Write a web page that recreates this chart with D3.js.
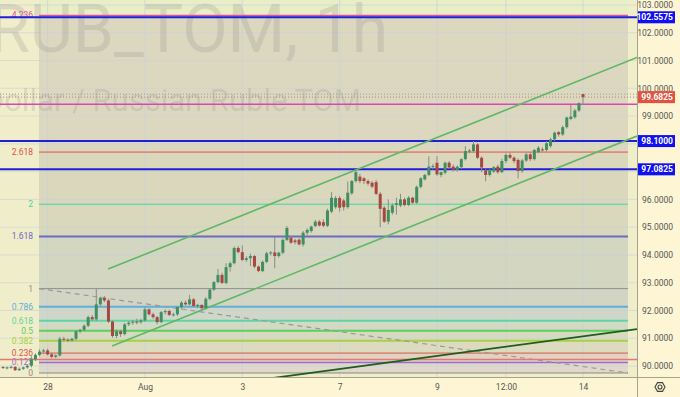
<!DOCTYPE html>
<html>
<head>
<meta charset="utf-8">
<title>USDRUB_TOM, 1h</title>
<style>
  body { margin: 0; background: #fdf5d3; }
  svg { display: block; font-family: Roboto, "Liberation Sans", sans-serif; }
</style>
</head>
<body>
<script src="https://d3js.org/d3.v7.min.js"></script>
<script>

// hourly candles, 27 Jul .. 14 Aug
var opens = [89.96,89.93,89.95,89.97,89.85,89.90,89.95,90.01,90.24,90.40,
  90.52,90.56,90.42,90.33,90.38,90.98,90.95,90.92,90.98,91.25,
  91.30,91.45,91.76,91.68,92.22,92.45,92.36,91.60,91.08,91.25,
  91.15,91.50,91.56,91.60,91.58,91.64,92.04,91.86,91.76,91.58,
  91.94,91.98,91.84,91.86,92.12,92.28,92.22,92.40,92.16,92.20,
  92.08,92.42,92.75,93.02,93.28,92.99,93.56,93.70,94.25,94.10,
  93.82,93.88,93.96,93.58,93.42,93.75,94.06,94.09,93.96,94.08,
  94.54,94.62,94.52,94.55,94.38,94.80,94.86,95.04,95.20,95.18,
  95.05,95.56,95.72,96.05,95.96,95.72,96.22,96.66,96.82,96.76,
  96.66,96.60,96.62,96.20,95.70,95.20,95.52,95.80,95.78,96.00,
  95.80,96.06,95.88,96.45,96.72,96.88,97.18,97.32,96.88,96.96,
  97.32,97.18,97.06,97.16,97.45,97.74,97.74,97.98,97.50,97.05,
  96.88,97.00,97.18,96.98,97.38,97.60,97.50,97.42,97.02,97.40,
  97.62,97.45,97.70,97.80,97.78,97.92,98.16,98.42,98.34,98.60,
  98.90,98.96,99.20,99.79];
var highs = [90.00,89.98,90.02,89.99,89.95,89.98,90.05,90.35,90.46,90.60,
  90.62,90.62,90.48,90.42,91.05,91.05,91.00,91.02,91.30,91.34,
  91.50,91.82,91.84,92.77,92.50,92.52,92.42,91.64,91.32,91.30,
  91.55,91.62,91.66,91.70,91.70,92.12,92.08,91.92,91.80,91.98,
  92.04,92.03,91.92,92.16,92.34,92.36,92.56,92.45,92.24,92.22,
  92.48,92.80,93.06,93.50,93.36,93.70,93.76,94.30,94.32,94.34,
  93.95,94.05,94.00,93.62,93.80,94.12,94.14,94.65,94.12,94.60,
  95.04,94.68,94.58,94.60,94.86,94.96,95.06,95.26,95.26,95.28,
  95.66,96.26,96.12,96.12,96.02,96.65,96.70,97.08,96.92,96.80,
  96.72,96.66,96.70,96.26,95.76,96.00,95.86,96.06,96.20,96.06,
  96.12,96.10,96.50,96.80,96.92,97.55,97.28,97.55,97.00,97.36,
  97.38,97.26,97.22,97.48,97.92,97.82,98.10,98.02,97.55,97.10,
  97.10,97.20,97.25,97.46,97.66,97.68,97.55,97.48,97.46,97.68,
  97.70,97.82,97.92,97.88,98.10,98.22,98.44,98.46,98.66,98.98,
  99.40,99.26,99.50,99.80];
var lows = [89.90,89.88,89.90,89.82,89.82,89.86,89.90,89.95,90.18,90.35,
  90.45,90.38,90.28,90.28,90.34,90.88,90.86,90.88,90.92,91.18,
  91.25,91.40,91.62,91.62,92.15,92.30,91.55,91.02,91.00,91.05,
  91.10,91.44,91.48,91.50,91.52,91.60,91.82,91.70,91.50,91.54,
  91.86,91.80,91.78,91.80,92.05,92.18,92.18,92.12,92.08,92.02,
  92.04,92.36,92.70,92.98,92.95,92.94,93.40,93.66,94.06,93.78,
  93.75,93.60,93.52,93.38,93.38,93.70,93.98,93.52,93.90,94.02,
  94.50,94.40,94.38,94.34,94.30,94.72,94.80,95.00,95.02,95.00,
  95.00,95.50,95.66,95.56,95.60,95.66,96.16,96.60,96.58,96.55,
  96.50,96.40,96.15,95.00,95.15,95.10,95.45,95.45,95.72,95.75,
  95.76,95.84,95.84,96.40,96.68,96.84,97.08,96.85,96.80,96.90,
  97.10,97.00,97.00,97.10,97.40,97.66,97.68,97.45,96.98,96.65,
  96.82,96.95,96.92,96.95,97.30,97.45,97.30,96.75,96.96,97.35,
  97.38,97.40,97.66,97.72,97.72,97.86,98.10,98.26,98.28,98.55,
  98.85,98.90,99.15,99.40];
var closes = [89.93,89.95,89.97,89.85,89.90,89.95,90.01,90.24,90.40,90.52,
  90.56,90.42,90.33,90.38,90.98,90.95,90.92,90.98,91.25,91.30,
  91.45,91.76,91.68,92.22,92.45,92.36,91.60,91.08,91.25,91.15,
  91.50,91.56,91.60,91.58,91.64,92.04,91.86,91.76,91.58,91.94,
  91.98,91.84,91.86,92.12,92.28,92.22,92.40,92.16,92.20,92.08,
  92.42,92.75,93.02,93.28,92.99,93.56,93.70,94.25,94.10,93.82,
  93.88,93.96,93.58,93.42,93.75,94.06,94.09,93.96,94.08,94.54,
  94.97,94.44,94.46,94.38,94.80,94.90,95.02,95.20,95.06,95.05,
  95.60,96.06,96.05,95.70,95.72,96.24,96.66,96.98,96.66,96.66,
  96.57,96.46,96.20,95.66,95.20,95.62,95.78,95.86,96.00,95.80,
  96.06,95.88,96.45,96.76,96.88,97.18,97.20,96.90,96.98,97.32,
  97.15,97.06,97.18,97.45,97.74,97.76,97.98,97.50,97.15,96.88,
  97.05,97.16,96.98,97.38,97.60,97.50,97.38,97.02,97.40,97.62,
  97.45,97.78,97.86,97.79,98.02,98.16,98.40,98.34,98.60,98.95,
  98.98,99.20,99.46,99.68];

// time axis
var timeTicks = [11, 35, 59, 83, 107, 124, 143];
var timeLabels = ["28", "Aug", "3", "7", "9", "12:00", "14"];

// price axis
var priceTicks = d3.range(90, 104, 1);

// fibonacci retracement (anchors: bar index / price)
var fibLevels = [0, 0.125, 0.236, 0.382, 0.5, 0.618, 0.786, 1, 1.618, 2, 2.618, 4.236];
var fibLabels = ["0", "0.125", "0.236", "0.382", "0.5", "0.618", "0.786", "1", "1.618", "2", "2.618", "4.236"];
var fibPrice0 = 89.748, fibPrice1 = 92.787;
var fibStart = 8.88, fibEnd = 154.1;

// horizontal lines and labelled prices
var hLinePrices = [102.5575, 98.1, 97.0825, 99.43, 90.234];
var markPrices = [102.5575, 99.6825, 98.1, 97.0825];
var lastPrice = 99.6825, lastHigh = 99.79;

// trend lines [barIndex, price]
var channelUpper = [[25.9, 93.49], [156.3, 101.11]];
var channelLower = [[26.9, 90.72], [156.3, 98.28]];
var supportLine = [[60, 89.44], [156.3, 91.33]];

// ------------------------------------------------------------------
var W = 680, H = 397, paneW = 637, paneH = 377;

var fibColors = ["#8b8b8b", "#9a6ad6", "#d9534f", "#a8cf45", "#5ccf5c", "#5fd4a4",
                 "#62aed6", "#8f8f8f", "#6b6bc4", "#3ed6a0", "#e0524a", "#e0509c"];
var fibWidths = [1, 1.5, 1, 2, 2, 2, 2, 1, 2, 1, 1, 1.5];
var bandColors = ["#e0d8c8", "#e2d3c0", "#dcdbbf", "#d6dbc0", "#d2d9c4", "#cfd7c8",
                  "#d2d5c3", "#d3d6c1", "#d9d7bc", "#dbd7bd", "#dcd8bf"];
var hLineColors = ["#1f1fd6", "#1f1fd6", "#1f1fd6", "#d946b5", "#e07a7a"];
var hLineWidths = [2, 2, 2, 1.5, 1.5];
var markColors = ["#1010f0", "#e0533f", "#1010f0", "#1010f0"];

var svg = d3.select("body").append("svg")
    .attr("width", W)
    .attr("height", H);

var x = d3.scaleLinear().domain([0, opens.length - 1]).range([3, 583]);
var y = d3.scaleLinear().domain([90, 103]).range([366, 5]);

svg.append("defs").append("clipPath").attr("id", "pane")
  .append("rect").attr("width", paneW).attr("height", paneH);

// backgrounds
svg.append("rect").attr("width", W).attr("height", H).attr("fill", "#fdf5d3");
svg.append("rect").attr("width", paneW).attr("height", paneH).attr("fill", "#f0edca");

var fibY = fibLevels.map(function(l) { return y(fibPrice0 + l * (fibPrice1 - fibPrice0)); });
var fx0 = x(fibStart), fx1 = x(fibEnd);

svg.append("rect").attr("x", fx0).attr("y", 0).attr("width", fx1 - fx0)
  .attr("height", fibY[fibY.length - 1]).attr("fill", "#e8eec6");

var pane = svg.append("g").attr("clip-path", "url(#pane)");

pane.selectAll("rect.band").data(d3.range(fibLevels.length - 1)).enter()
  .append("rect").attr("class", "band")
  .attr("x", fx0).attr("width", fx1 - fx0)
  .attr("y", function(k) { return fibY[k + 1]; })
  .attr("height", function(k) { return fibY[k] - fibY[k + 1]; })
  .attr("fill", function(k) { return bandColors[k]; });

// grid
pane.selectAll("line.vg").data(timeTicks).enter().append("line")
  .attr("x1", function(d) { return x(d); }).attr("x2", function(d) { return x(d); })
  .attr("y1", 0).attr("y2", paneH)
  .attr("stroke", "#c6d2d8").attr("stroke-opacity", 0.7);
pane.selectAll("line.hg").data(priceTicks).enter().append("line")
  .attr("x1", 0).attr("x2", paneW)
  .attr("y1", function(d) { return y(d); }).attr("y2", function(d) { return y(d); })
  .attr("stroke", "#c6d2d8").attr("stroke-opacity", 0.6);

// watermark
pane.append("text").attr("x", 388).attr("y", 52).attr("text-anchor", "end")
  .attr("font-size", 66).attr("fill", "#8a8a8a").attr("fill-opacity", 0.22)
  .text("USDRUB_TOM, 1h");
pane.append("text").attr("x", 361).attr("y", 111).attr("text-anchor", "end")
  .attr("font-size", 31).attr("fill", "#8a8a8a").attr("fill-opacity", 0.22)
  .text("U.S. Dollar / Russian Ruble TOM");

// fib levels
pane.selectAll("line.fib").data(fibLevels).enter().append("line")
  .attr("x1", fx0).attr("x2", fx1)
  .attr("y1", function(d, i) { return fibY[i]; }).attr("y2", function(d, i) { return fibY[i]; })
  .attr("stroke", function(d, i) { return fibColors[i]; })
  .attr("stroke-width", function(d, i) { return fibWidths[i]; });

pane.selectAll("text.fib").data(fibLabels).enter().append("text")
  .attr("x", fx0 - 6).attr("y", function(d, i) { return fibY[i]; })
  .attr("dy", "0.35em").attr("text-anchor", "end").attr("font-size", 8.5)
  .attr("fill", function(d, i) { return fibColors[i]; })
  .text(function(d) { return d; });

var line = d3.line()
  .x(function(d) { return x(d[0]); })
  .y(function(d) { return y(d[1]); });

pane.append("path").attr("d", line([[fibStart, fibPrice1], [fibEnd, fibPrice0]]))
  .attr("fill", "none").attr("stroke", "#9a9a94").attr("stroke-width", 1.2)
  .attr("stroke-dasharray", "5,4");

// horizontal lines
pane.selectAll("line.h").data(hLinePrices).enter().append("line")
  .attr("x1", 0).attr("x2", paneW)
  .attr("y1", function(d) { return y(d); }).attr("y2", function(d) { return y(d); })
  .attr("stroke", function(d, i) { return hLineColors[i]; })
  .attr("stroke-width", function(d, i) { return hLineWidths[i]; });

pane.selectAll("line.dot").data([lastHigh, lastPrice]).enter().append("line")
  .attr("x1", 0).attr("x2", paneW)
  .attr("y1", function(d) { return y(d); }).attr("y2", function(d) { return y(d); })
  .attr("stroke", function(d, i) { return i ? "#b88080" : "#999"; })
  .attr("stroke-dasharray", "1,2");

// channel and support
[channelUpper, channelLower].forEach(function(c) {
  pane.append("path").attr("d", line(c)).attr("fill", "none")
    .attr("stroke", "#5fb865").attr("stroke-width", 1.6);
});
pane.append("path").attr("d", line(supportLine)).attr("fill", "none")
  .attr("stroke", "#1d5e1d").attr("stroke-width", 1.8);

// candles
var candles = pane.selectAll("g.c").data(opens).enter().append("g");
candles.append("line")
  .attr("x1", function(d, i) { return x(i); }).attr("x2", function(d, i) { return x(i); })
  .attr("y1", function(d, i) { return y(highs[i]); })
  .attr("y2", function(d, i) { return y(lows[i]); })
  .attr("stroke", "#868d86");
candles.append("rect")
  .attr("x", function(d, i) { return x(i) - 1.5; })
  .attr("width", 3)
  .attr("y", function(d, i) { return y(Math.max(opens[i], closes[i])); })
  .attr("height", function(d, i) { return Math.max(1, Math.abs(y(opens[i]) - y(closes[i]))); })
  .attr("fill", function(d, i) { return closes[i] >= opens[i] ? "#3f8f60" : "#a8463f"; });

// axes
svg.append("line").attr("x1", paneW + 0.5).attr("x2", paneW + 0.5).attr("y1", 0).attr("y2", H)
  .attr("stroke", "#a8a28c");
svg.append("line").attr("x1", 0).attr("x2", W).attr("y1", paneH + 0.5).attr("y2", paneH + 0.5)
  .attr("stroke", "#a8a28c");

// tick labels hidden behind the price marks are not drawn
var shownTicks = priceTicks.filter(function(t) {
  return markPrices.every(function(m) { return Math.abs(y(t) - y(m)) > 8; });
});

var yAxis = svg.append("g").attr("transform", "translate(675,0)")
  .call(d3.axisLeft(y).tickValues(shownTicks).tickFormat(d3.format(".4f")).tickSize(0).tickPadding(2));
yAxis.select(".domain").remove();
yAxis.selectAll("text").attr("font-size", 8.5).attr("fill", "#555").attr("font-family", "Roboto, sans-serif");

var xAxis = svg.append("g").attr("transform", "translate(0," + paneH + ")")
  .call(d3.axisBottom(x).tickValues(timeTicks)
    .tickFormat(function(d, i) { return timeLabels[i]; }).tickSize(0).tickPadding(7));
xAxis.select(".domain").remove();
xAxis.selectAll("text").attr("font-size", 8.5).attr("fill", "#555").attr("font-family", "Roboto, sans-serif");

// price marks on the axis
var marks = svg.selectAll("g.mark").data(markPrices).enter().append("g");
marks.append("rect")
  .attr("x", 638).attr("width", 37).attr("height", 12)
  .attr("y", function(d) { return y(d) - 6; })
  .attr("fill", function(d, i) { return markColors[i]; });
marks.append("text")
  .attr("x", 673).attr("y", function(d) { return y(d); }).attr("dy", "0.35em")
  .attr("text-anchor", "end").attr("font-size", 8.5).attr("font-weight", "bold").attr("fill", "#fff")
  .text(function(d) { return d3.format(".4f")(d); });

// settings icon
var gx = 660, gy = 387;
svg.append("path")
  .attr("d", d3.line()(d3.range(6).map(function(k) {
    var a = Math.PI / 3 * k;
    return [gx + 5 * Math.cos(a), gy + 5 * Math.sin(a)];
  })) + "Z")
  .attr("fill", "none").attr("stroke", "#444").attr("stroke-width", 1.1);
svg.append("circle").attr("cx", gx).attr("cy", gy).attr("r", 2)
  .attr("fill", "none").attr("stroke", "#444").attr("stroke-width", 1.1);

</script>
</body>
</html>
